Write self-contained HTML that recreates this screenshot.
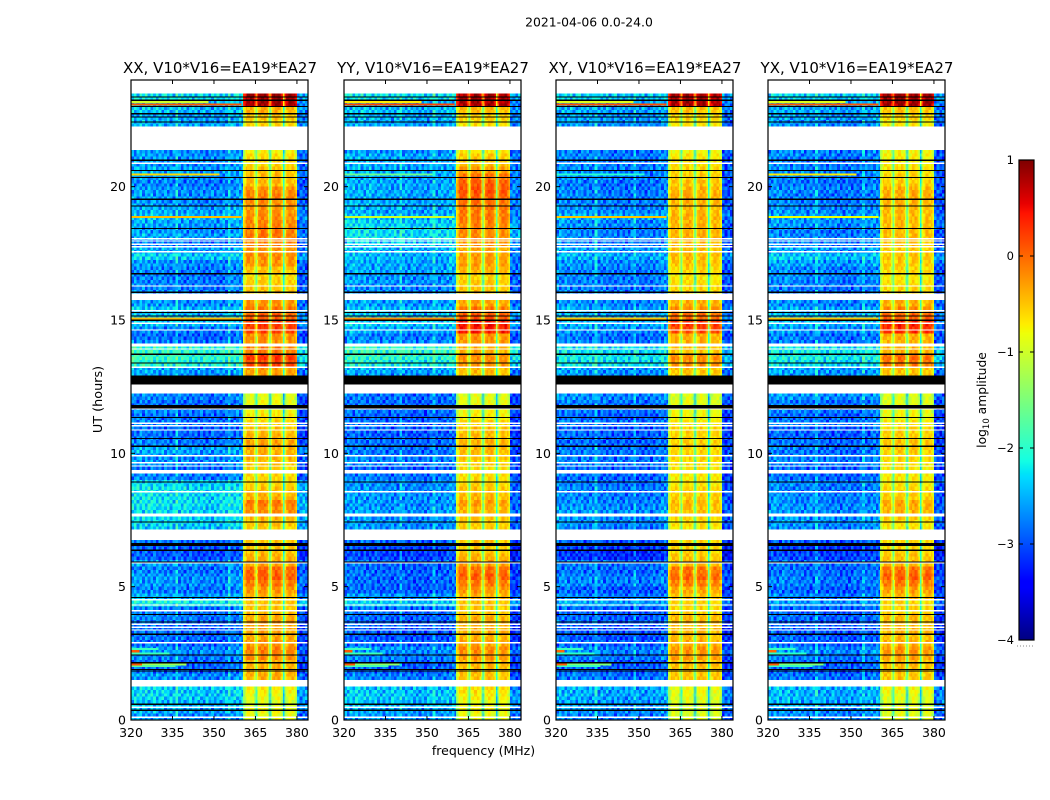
<!DOCTYPE html>
<html>
<head>
<meta charset="utf-8">
<title>2021-04-06 0.0-24.0</title>
<style>
html,body{margin:0;padding:0;background:#fff;width:1050px;height:800px;overflow:hidden}
svg{display:block}
text{font-family:"DejaVu Sans","Liberation Sans",sans-serif;fill:#000}
</style>
</head>
<body>
<svg id="figure" xmlns="http://www.w3.org/2000/svg" width="1050" height="800" viewBox="0 0 1050 800">
  <rect x="0" y="0" width="1050" height="800" fill="#fff"/>
  <text x="589" y="26.5" font-size="12.4" text-anchor="middle">2021-04-06 0.0-24.0</text>
  <text x="483.5" y="755" font-size="12.5" text-anchor="middle">frequency (MHz)</text>
  <text transform="translate(102,399.5) rotate(-90)" font-size="12.8" text-anchor="middle">UT (hours)</text>
  <text transform="translate(986,400) rotate(-90)" font-size="12.3" text-anchor="middle">log<tspan font-size="8.5" dy="3">10</tspan><tspan dy="-3"> amplitude</tspan></text>
  <g id="panels"></g>
  <g id="colorbar"></g>
</svg>
<script>
// ---------- categories and tick labels ----------
const panelNames = ['XX', 'YY', 'XY', 'YX'];
const baselineLabel = ', V10*V16=EA19*EA27';
const freqTicks = [320, 335, 350, 365, 380];
const hourTicks = [0, 5, 10, 15, 20];
const colorbarTicks = [1, 0, -1, -2, -3, -4];
const colorbarTickLabels = ['1', '0', '\u22121', '\u22122', '\u22123', '\u22124'];

// ---------- log10 amplitude per quarter-hour, 320-360 MHz and 380-384 MHz ----------
const lowXX = [
-2.6,-2.5,-2.4,-2.3, -2.3,-2.3,-2.6,-2.8, -2.8,-2.7,-2.6,-2.8, -2.8,-2.8,-2.8,-2.7,
-2.7,-2.1,-2.5,-2.7, -2.6,-2.6,-2.7,-2.6, -2.9,-2.9,-2.8,-2.4, -2.4,-2.3,-2.25,-2.25,
-2.2,-2.2,-2.2,-2.3, -2.7,-2.8,-2.6,-2.6, -2.5,-2.7,-2.8,-2.8, -2.7,-2.8,-2.7,-2.8,
-2.7,-2.7,-2.6,-2.6, -2.5,-2.0,-1.9,-1.9, -2.7,-2.8,-2.7,-2.4, -2.4,-2.4,-2.6,-2.6,
-2.7,-2.7,-2.7,-2.7, -2.6,-2.3,-2.5,-2.7, -2.5,-2.6,-2.5,-2.4, -2.5,-2.6,-2.6,-2.6,
-2.7,-2.6,-2.5,-2.6, -2.6,-2.6,-2.6,-2.6, -2.6,-2.5,-2.5,-2.4, -2.4,-2.2,-2.2,-2.2];
const lowYY = [
-2.6,-2.5,-2.4,-2.35, -2.35,-2.4,-2.7,-2.85, -2.85,-2.7,-2.6,-2.85, -2.9,-2.9,-2.85,-2.8,
-2.8,-2.3,-2.6,-2.85, -2.8,-2.8,-2.85,-2.8, -3.0,-3.0,-2.8,-2.5, -2.6,-2.6,-2.6,-2.55,
-2.6,-2.6,-2.6,-2.65, -2.75,-2.85,-2.7,-2.7, -2.75,-2.8,-2.85,-2.85, -2.8,-2.85,-2.8,-2.8,
-2.75,-2.7,-2.6,-2.6, -2.5,-2.05,-1.9,-1.9, -2.6,-2.7,-2.5,-2.3, -2.4,-2.4,-2.55,-2.55,
-2.65,-2.6,-2.6,-2.5, -2.5,-2.45,-2.4,-2.35, -2.2,-2.2,-2.3,-2.4, -2.5,-2.5,-2.5,-2.5,
-2.5,-2.5,-2.5,-2.5, -2.5,-2.6,-2.6,-2.6, -2.55,-2.5,-2.45,-2.4, -2.4,-2.2,-2.2,-2.2];
const lowXY = [
-2.7,-2.6,-2.55,-2.5, -2.5,-2.5,-2.75,-2.85, -2.85,-2.75,-2.65,-2.85, -2.9,-2.9,-2.85,-2.85,
-2.85,-2.5,-2.7,-2.85, -2.7,-2.7,-2.8,-2.75, -3.1,-3.1,-2.9,-2.6, -2.7,-2.65,-2.6,-2.6,
-2.65,-2.7,-2.7,-2.75, -2.8,-2.85,-2.7,-2.75, -2.75,-2.8,-2.85,-2.85, -2.75,-2.85,-2.75,-2.75,
-2.65,-2.6,-2.6,-2.6, -2.55,-2.2,-2.15,-2.2, -2.7,-2.75,-2.6,-2.5, -2.5,-2.5,-2.65,-2.65,
-2.75,-2.7,-2.7,-2.7, -2.6,-2.45,-2.55,-2.7, -2.65,-2.7,-2.6,-2.5, -2.65,-2.7,-2.7,-2.7,
-2.75,-2.7,-2.65,-2.7, -2.7,-2.7,-2.7,-2.7, -2.65,-2.6,-2.55,-2.5, -2.5,-2.3,-2.25,-2.25];
const lowYX = [
-2.65,-2.6,-2.5,-2.45, -2.45,-2.5,-2.75,-2.85, -2.85,-2.7,-2.6,-2.85, -2.85,-2.9,-2.85,-2.8,
-2.85,-2.55,-2.7,-2.85, -2.7,-2.75,-2.8,-2.75, -3.0,-3.05,-2.9,-2.6, -2.65,-2.6,-2.6,-2.6,
-2.65,-2.65,-2.7,-2.7, -2.8,-2.85,-2.7,-2.7, -2.75,-2.8,-2.85,-2.85, -2.7,-2.8,-2.75,-2.75,
-2.6,-2.55,-2.6,-2.6, -2.55,-2.2,-2.1,-2.15, -2.7,-2.75,-2.6,-2.45, -2.45,-2.5,-2.65,-2.65,
-2.75,-2.7,-2.65,-2.65, -2.55,-2.35,-2.55,-2.7, -2.65,-2.7,-2.6,-2.55, -2.65,-2.7,-2.7,-2.7,
-2.75,-2.7,-2.65,-2.7, -2.7,-2.7,-2.7,-2.7, -2.65,-2.6,-2.55,-2.5, -2.5,-2.3,-2.25,-2.25];

// ---------- log10 amplitude per quarter-hour, 360-380 MHz ----------
const highXX = [
-0.8,-0.8,-0.9,-0.8, -0.7,-0.6,-0.35,-0.35, -0.35,-0.15,-0.1,-0.2, -0.3,-0.3,-0.25,-0.3,
-0.45,-0.45,-0.35,-0.2, -0.05,0.1,0.05,-0.3, -0.35,-0.45,-0.45,-0.45, -0.55,-0.45,-0.35,-0.15,
-0.05,-0.35,-0.45,-0.55, -0.55,-0.55,-0.45,-0.35, -0.35,-0.25,-0.35,-0.45, -0.55,-0.65,-0.75,-0.8,
-0.85,-0.8,-0.35,-0.25, -0.25,0.2,0.3,-0.05, -0.2,-0.15,0.25,0.3, 0.1,-0.05,-0.2,-0.3,
-0.45,-0.5,-0.55,-0.45, -0.2,-0.15,-0.2,-0.1, -0.05,-0.05,-0.1,-0.15, -0.2,-0.15,-0.1,-0.15,
-0.4,-0.4,-0.45,-0.55, -0.6,-0.7,-0.7,-0.7, -0.55,-0.55,-0.45,-0.35, 0.9,0.9,-0.75,-0.75];
const highYY = [
-0.8,-0.75,-0.8,-0.7, -0.6,-0.55,-0.45,-0.4, -0.35,-0.2,-0.15,-0.3, -0.35,-0.35,-0.35,-0.35,
-0.5,-0.45,-0.35,-0.2, -0.05,0.1,0,-0.25, -0.35,-0.5,-0.45,-0.5, -0.5,-0.5,-0.45,-0.35,
-0.25,-0.4,-0.45,-0.55, -0.6,-0.6,-0.55,-0.45, -0.4,-0.35,-0.4,-0.45, -0.55,-0.7,-0.75,-0.8,
-0.85,-0.8,-0.5,-0.45, -0.4,-0.2,-0.15,-0.35, -0.2,-0.2,0.45,0.5, 0.15,-0.05,-0.3,-0.4,
-0.45,-0.5,-0.55,-0.35, -0.25,-0.25,-0.3,-0.2, -0.15,-0.15,-0.1,-0.05, -0.05,0,0.1,0.15,
0.1,0,-0.25,-0.45, -0.5,-0.65,-0.7,-0.7, -0.6,-0.6,-0.5,-0.4, 0.85,0.85,-0.75,-0.75];
const highXY = [
-0.9,-0.9,-0.9,-0.85, -0.8,-0.7,-0.45,-0.45, -0.4,-0.25,-0.2,-0.35, -0.4,-0.4,-0.4,-0.4,
-0.55,-0.55,-0.45,-0.3, -0.1,0.05,-0.05,-0.4, -0.45,-0.55,-0.55,-0.55, -0.65,-0.6,-0.55,-0.45,
-0.4,-0.5,-0.55,-0.65, -0.65,-0.65,-0.6,-0.55, -0.55,-0.5,-0.55,-0.55, -0.65,-0.75,-0.8,-0.85,
-0.9,-0.85,-0.6,-0.5, -0.45,-0.2,-0.15,-0.45, -0.35,-0.35,0.2,0.3, 0.05,-0.15,-0.35,-0.4,
-0.55,-0.6,-0.65,-0.55, -0.45,-0.4,-0.45,-0.4, -0.35,-0.35,-0.35,-0.35, -0.4,-0.35,-0.3,-0.35,
-0.45,-0.5,-0.55,-0.6, -0.65,-0.75,-0.75,-0.75, -0.65,-0.65,-0.55,-0.45, 0.85,0.85,-0.8,-0.8];
const highYX = [
-0.85,-0.85,-0.9,-0.85, -0.75,-0.65,-0.45,-0.45, -0.4,-0.25,-0.2,-0.35, -0.4,-0.4,-0.4,-0.4,
-0.55,-0.55,-0.4,-0.25, -0.05,0.1,0,-0.4, -0.45,-0.55,-0.55,-0.55, -0.65,-0.6,-0.5,-0.35,
-0.3,-0.5,-0.55,-0.65, -0.65,-0.65,-0.6,-0.55, -0.5,-0.45,-0.5,-0.55, -0.65,-0.75,-0.8,-0.85,
-0.9,-0.85,-0.55,-0.45, -0.45,-0.05,0,-0.35, -0.35,-0.35,0.35,0.4, 0.1,-0.15,-0.35,-0.4,
-0.55,-0.6,-0.65,-0.55, -0.5,-0.45,-0.5,-0.45, -0.4,-0.4,-0.4,-0.4, -0.4,-0.35,-0.3,-0.35,
-0.5,-0.55,-0.6,-0.65, -0.7,-0.75,-0.75,-0.75, -0.65,-0.65,-0.55,-0.45, 0.9,0.9,-0.8,-0.8];

// ---------- amplitude offset per 0.5 MHz channel from 360.5 MHz to 380 MHz ----------
const bandProfile = [
-0.6,-0.3,-0.05,0,0,0,0,-0.05,-0.4,-1.0,
-0.5,-0.1,0,0.05,0.05,0.05,0,-0.1,-0.5,-1.6,
-0.6,-0.15,0,0.05,0.05,0.05,0,-0.1,-0.4,-1.6,
-0.5,-0.2,-0.05,0,0,0,-0.05,-0.1,-0.4];

// ---------- amplitude offset per 1 MHz channel, 320-360 MHz ----------
const lowProfile = [
0.05,0.07,0.05,0.07,0.03,0.05,0.03,0.05,0.01,0.03,
0,-0.01,0,-0.03,-0.01,-0.05,-0.03,-0.05,-0.03,-0.05,
-0.07,-0.05,-0.07,-0.05,-0.08,-0.07,-0.1,-0.07,-0.1,-0.08,
-0.1,-0.07,-0.09,-0.05,-0.07,-0.05,-0.03,0,0.03,0.05];

// ---------- noise seen in the quiet channels ----------
const speckleTile = [
[-0.3,0.15,-0.45,0.1,0.25,-0.2,0.05,-0.5,0.2,-0.1,0.3,-0.35,0.1],
[0.2,-0.4,0.05,-0.15,-0.5,0.3,-0.25,0.15,-0.05,-0.4,0.1,0.25,-0.3],
[-0.1,0.3,-0.2,0.25,-0.05,-0.35,0.2,-0.3,0.35,0.05,-0.45,-0.1,0.15],
[0.1,-0.25,0.35,-0.5,0.15,0.05,-0.4,0.25,-0.15,0.2,-0.05,0.3,-0.45],
[-0.45,0.05,-0.1,0.3,-0.3,0.2,0.1,-0.05,-0.35,0.25,-0.2,0.05,0.2],
[0.25,-0.15,0.2,-0.35,0.1,-0.45,0.3,-0.2,0.05,-0.25,0.15,-0.4,-0.05],
[0.05,-0.35,-0.05,0.15,-0.2,0.25,-0.5,0.1,0.3,-0.4,-0.1,0.2,-0.15],
[-0.2,0.25,-0.4,0.05,0.3,-0.1,0.15,-0.35,-0.1,0.2,0.05,-0.5,0.3],
[0.3,-0.05,0.1,-0.3,-0.15,0.05,-0.25,0.3,-0.45,0.1,-0.35,0.15,-0.2],
[-0.35,0.2,-0.25,0.1,-0.45,0.3,0.05,-0.15,0.2,-0.3,0.25,-0.05,0.1],
[0.15,-0.5,0.25,-0.1,0.05,-0.3,0.2,0.1,-0.4,0.3,-0.2,0.05,-0.25]];

// ---------- bright horizontal interference (hour, last MHz, amplitude per panel) ----------
const streakHours = [23.08,23.18,18.86,20.46,15.06,2.66,2.5,2.08,2.02,2.08,2.58];
const streakEndMHz = [360,348,360,352,360,330,334,340,336,324,323];
const streakAmpXX = [0.1,-1.0,-0.45,-0.6,-0.45,-1.9,-1.9,-1.3,-1.7,0.1,0.1];
const streakAmpYY = [0.2,-0.7,-1.0,-1.6,-0.2,-1.9,-1.9,-1.4,-1.8,0.1,0.1];
const streakAmpXY = [0.15,-0.9,-0.5,-2.0,-0.5,-1.9,-2.0,-1.5,-1.9,0.05,0.0];
const streakAmpYX = [0.1,-0.9,-0.8,-0.7,-0.5,-1.9,-2.0,-1.5,-1.9,0.05,0.0];

// ---------- faint vertical interference channels per panel (MHz) ----------
const rfiXX = [336,355];
const rfiYY = [340,352];
const rfiXY = [334,348];
const rfiYX = [337,354];

// ---------- flagged data ----------
const blankRanges = [[23.49,24],[21.4,22.2],[15.8,15.94],[13.97,14.17],[12.22,12.59],[9.22,9.42],[7.57,7.72],[6.77,7.09],[1.27,1.46]];
const blankLines = [20.87,18.05,17.96,17.84,17.74,17.55,16.27,15.34,14.87,14.62,13.91,13.22,11.66,11.13,11.03,10.87,9.91,9.64,9.52,8.55,7.12,5.9,4.5,4.31,4.1,3.59,3.47,3.37,2.9,0.48,0.1];
const blackRanges = [[12.59,12.86],[11.69,11.81],[6.52,6.64]];
const blackLines = [23.36,23.24,23.01,22.74,22.61,22.43,20.99,20.61,20.35,19.53,19.28,18.43,16.74,16.04,15.28,15.15,14.99,13.72,13.39,12.89,11.35,10.56,10.27,8.93,7.43,6.37,5.93,4.6,3.96,3.68,3.22,2.44,2.15,1.9,1.84,0.59,0.37];

const lowByPanel = [lowXX, lowYY, lowXY, lowYX];
const highByPanel = [highXX, highYY, highXY, highYX];
const streakByPanel = [streakAmpXX, streakAmpYY, streakAmpXY, streakAmpYX];
const rfiByPanel = [rfiXX, rfiYY, rfiXY, rfiYX];

// ---------- layout ----------
const SVGNS = 'http://www.w3.org/2000/svg';
const axesLeft = [131, 344, 556, 768];
const axesWidth = 177;
const axesTop = 80;
const axesBottom = 720;
const freqMin = 320, freqMax = 384;
const hourMax = 24;
const ampMin = -4, ampMax = 1;
const cbLeft = 1019, cbWidth = 15, cbTop = 160, cbBottom = 640;

function xScale(panel, mhz) {
  return axesLeft[panel] + (mhz - freqMin) * axesWidth / (freqMax - freqMin);
}
function yScale(hour) {
  return axesBottom - hour * (axesBottom - axesTop) / hourMax;
}
function cbScale(amp) {
  return cbBottom - (amp - ampMin) * (cbBottom - cbTop) / (ampMax - ampMin);
}
function ramp(t, pts) {
  for (let i = 1; i < pts.length; i++) {
    if (t <= pts[i][0]) {
      const a = pts[i - 1], b = pts[i];
      return a[1] + (b[1] - a[1]) * (t - a[0]) / (b[0] - a[0]);
    }
  }
  return pts[pts.length - 1][1];
}
function jet(amp) {
  const t = Math.max(0, Math.min(1, (amp - ampMin) / (ampMax - ampMin)));
  const r = ramp(t, [[0,0],[0.35,0],[0.66,1],[0.89,1],[1,0.5]]);
  const g = ramp(t, [[0,0],[0.125,0],[0.375,1],[0.64,1],[0.91,0],[1,0]]);
  const b = ramp(t, [[0,0.5],[0.11,1],[0.34,1],[0.65,0],[1,0]]);
  return 'rgb(' + Math.round(r * 255) + ',' + Math.round(g * 255) + ',' + Math.round(b * 255) + ')';
}
function isBlank(hour) {
  return blankRanges.some(function (p) { return hour >= p[0] && hour < p[1]; });
}
function makeRect(parent, x, y, w, h, fill) {
  const el = document.createElementNS(SVGNS, 'rect');
  el.setAttribute('x', x.toFixed(2));
  el.setAttribute('y', y.toFixed(2));
  el.setAttribute('width', w.toFixed(2));
  el.setAttribute('height', h.toFixed(2));
  el.setAttribute('fill', fill);
  parent.appendChild(el);
  return el;
}
function makeLine(parent, x1, y1, x2, y2) {
  const el = document.createElementNS(SVGNS, 'line');
  el.setAttribute('x1', x1);
  el.setAttribute('y1', y1);
  el.setAttribute('x2', x2);
  el.setAttribute('y2', y2);
  el.setAttribute('stroke', '#000');
  el.setAttribute('stroke-width', '1');
  parent.appendChild(el);
  return el;
}
function makeText(parent, x, y, str, size, anchor) {
  const el = document.createElementNS(SVGNS, 'text');
  el.setAttribute('x', x);
  el.setAttribute('y', y);
  el.setAttribute('font-size', size);
  el.setAttribute('text-anchor', anchor);
  el.textContent = str;
  parent.appendChild(el);
  return el;
}

// value of one cell in log10 amplitude
function cellAmp(panel, bin, sub, mhz) {
  const low = lowByPanel[panel][bin];
  const high = highByPanel[panel][bin];
  const tileRow = speckleTile[(bin * 2 + sub + panel * 3) % speckleTile.length];
  const chan = Math.floor(mhz);
  const noise = tileRow[(chan + bin * 5 + panel * 4) % tileRow.length];
  if (mhz < 360.5) {
    const idx = Math.min(chan - freqMin, lowProfile.length - 1);
    const rfi = rfiByPanel[panel].indexOf(chan) >= 0 ? 0.35 : 0;
    return low + lowProfile[idx] + noise + rfi;
  }
  if (mhz < 380) {
    const idx = Math.round((mhz - 360.5) * 2);
    const gentle = Math.round(noise * 4) / 4 * 0.4;
    return high + bandProfile[idx] + gentle;
  }
  return low - 0.25 + noise;
}

// ---------- draw panels ----------
const panelsRoot = document.getElementById('panels');
const binCount = 96;
const subRows = 2;
const binHours = hourMax / binCount;

panelNames.forEach(function (name, p) {
  const g = document.createElementNS(SVGNS, 'g');
  
  
  panelsRoot.appendChild(g);

  const cells = document.createElementNS(SVGNS, 'g');
  
  
  cells.setAttribute('shape-rendering', 'crispEdges');
  g.appendChild(cells);

  // heatmap cells
  for (let bin = 0; bin < binCount; bin++) {
    for (let sub = 0; sub < subRows; sub++) {
      const t0 = (bin + sub / subRows) * binHours;
      const t1 = t0 + binHours / subRows;
      if (isBlank((t0 + t1) / 2)) continue;
      const yTop = yScale(t1);
      const yH = yScale(t0) - yTop;
      let runStart = freqMin, runFill = null;
      const flush = function (end) {
        if (runFill === null) return;
        const x0 = xScale(p, runStart);
        const cell = makeRect(cells, x0, yTop, xScale(p, end) - x0, yH, runFill);
        
        
      };
      let mhz = freqMin;
      while (mhz < freqMax) {
        const step = (mhz < 360) ? 1 : 0.5;
        const fill = jet(cellAmp(p, bin, sub, mhz));
        if (fill !== runFill) {
          flush(mhz);
          runStart = mhz;
          runFill = fill;
        }
        mhz += step;
      }
      flush(freqMax);
    }
  }

  // interference streaks
  const streakGroup = document.createElementNS(SVGNS, 'g');
  
  
  streakGroup.setAttribute('shape-rendering', 'crispEdges');
  g.appendChild(streakGroup);
  streakHours.forEach(function (hour, i) {
    const x0 = xScale(p, freqMin);
    const st = makeRect(streakGroup, x0, yScale(hour + 0.04), xScale(p, streakEndMHz[i]) - x0, yScale(hour - 0.04) - yScale(hour + 0.04), jet(streakByPanel[p][i]));
    
    
  });

  // flagged rows
  const flagGroup = document.createElementNS(SVGNS, 'g');
  
  
  flagGroup.setAttribute('shape-rendering', 'crispEdges');
  g.appendChild(flagGroup);
  blankLines.forEach(function (hour) {
    const r = makeRect(flagGroup, axesLeft[p], yScale(hour + 0.03), axesWidth, 1.4, '#fff');
    
    
  });
  blackLines.forEach(function (hour) {
    const r = makeRect(flagGroup, axesLeft[p], yScale(hour + 0.02), axesWidth, 1.2, '#000');
    
    
  });
  blackRanges.forEach(function (pair) {
    const r = makeRect(flagGroup, axesLeft[p], yScale(pair[1]), axesWidth, yScale(pair[0]) - yScale(pair[1]), '#000');
    
    
  });

  // spine
  const spine = makeRect(g, axesLeft[p], axesTop, axesWidth, axesBottom - axesTop, 'none');
  spine.setAttribute('stroke', '#000');
  spine.setAttribute('stroke-width', '1.2');
  
  

  // ticks and tick labels
  freqTicks.forEach(function (f) {
    const x = xScale(p, f);
    const bt = makeLine(g, x, axesBottom, x, axesBottom - 4);
    
    
    const tt = makeLine(g, x, axesTop, x, axesTop + 4);
    
    
    const lab = makeText(g, x, axesBottom + 17, String(f), 12.5, 'middle');
    
    
  });
  hourTicks.forEach(function (h) {
    const y = yScale(h);
    const lt = makeLine(g, axesLeft[p], y, axesLeft[p] + 4, y);
    
    
    const rt = makeLine(g, axesLeft[p] + axesWidth, y, axesLeft[p] + axesWidth - 4, y);
    
    
    const lab = makeText(g, axesLeft[p] - 5, y + 4.5, String(h), 12.5, 'end');
    
    
  });

  // panel title
  const title = makeText(g, axesLeft[p] + axesWidth / 2 + 0.5, 73, name + baselineLabel, 15, 'middle');
  
  
});

// ---------- colorbar ----------
const cbRoot = document.getElementById('colorbar');
const cbSteps = 240;
const cbStrip = document.createElementNS(SVGNS, 'g');


cbStrip.setAttribute('shape-rendering', 'crispEdges');
cbRoot.appendChild(cbStrip);
for (let i = 0; i < cbSteps; i++) {
  const a0 = ampMin + (ampMax - ampMin) * i / cbSteps;
  const a1 = ampMin + (ampMax - ampMin) * (i + 1) / cbSteps;
  const seg = makeRect(cbStrip, cbLeft, cbScale(a1), cbWidth, cbScale(a0) - cbScale(a1) + 0.5, jet((a0 + a1) / 2));
  
  
}
const cbFrame = makeRect(cbRoot, cbLeft, cbTop, cbWidth, cbBottom - cbTop, 'none');
cbFrame.setAttribute('stroke', '#000');
cbFrame.setAttribute('stroke-width', '1.2');


colorbarTicks.forEach(function (v, i) {
  const y = cbScale(v);
  const t1 = makeLine(cbRoot, cbLeft, y, cbLeft + 4, y);
  
  
  const t2 = makeLine(cbRoot, cbLeft + cbWidth, y, cbLeft + cbWidth - 4, y);
  
  
  const lab = makeText(cbRoot, cbLeft - 5, y + 4, colorbarTickLabels[i], 11.5, 'end');
  
  
});
const cbDots = makeLine(cbRoot, cbLeft - 2, 646, cbLeft + cbWidth + 1, 646);
cbDots.setAttribute('stroke', '#888');
cbDots.setAttribute('stroke-dasharray', '1 2');


</script>
</body>
</html>
